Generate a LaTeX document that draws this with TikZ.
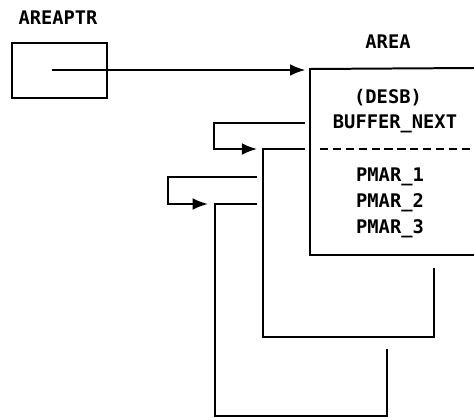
\documentclass[tikz,border=0pt]{standalone}
\usepackage{fontspec}
\setmonofont{DejaVu Sans Mono}
\usepackage{tikz}
\usetikzlibrary{arrows.meta, positioning}

\tikzset{
    lbl/.style={anchor=base, inner sep=0pt},
    ptr/.style={-{Latex[length=13pt, width=10pt]}}
}

\begin{document}
\begin{tikzpicture}[x=0.03cm, y=-0.03cm, line width=1.7pt, font=\ttfamily\bfseries\fontsize{16}{19}\selectfont]
    \useasboundingbox (0,0) rectangle (474,417);

    % pointer variable
    \node (Ptr) [rectangle, draw, minimum width=2.85cm, minimum height=1.65cm] at (59.5,70.5) {};
    \node (PtrLbl) [lbl] at (58,24.5) {AREAPTR};
    \coordinate (PtrDot) at (52,70);

    % the area
    \coordinate (AreaTL) at (310,69);
    \coordinate (AreaBL) at (310,255);
    \draw (474,68) -- (AreaTL) -- (AreaBL) -- (474,255);
    \draw[dash pattern=on 7pt off 4pt] (320,149) -- (474,149);
    \node (Area) [lbl] at (388,48.5) {AREA};
    \node (Desb) [lbl] at (388,103.5) {(DESB)};
    \node (BufNext) [lbl] at (395,128.5) {BUFFER\_NEXT};
    \node (Pmar1) [lbl] at (390,181.5) {PMAR\_1};
    \node (Pmar2) [lbl] at (390,207.5) {PMAR\_2};
    \node (Pmar3) [lbl] at (390,233.5) {PMAR\_3};

    \draw[ptr, shorten >=4pt] (PtrDot) -- (AreaTL |- PtrDot);

    % next buffers
    \coordinate (Buf2TL) at (263,149);
    \coordinate (Buf3TL) at (215,204);
    \draw (305,149) -- (Buf2TL) -- (263,337) -- (434,337) -- (434,268);
    \draw (257,204) -- (Buf3TL) -- (215,416) -- (387,416) -- (387,349);

    \coordinate (BufOut) at (305,123);
    \coordinate (PmarOut) at (257,177);
    \draw[ptr, shorten >=5pt] (BufOut) -- ++(-91,0) |- (Buf2TL);
    \draw[ptr, shorten >=6pt] (PmarOut) -- ++(-89,0) |- (Buf3TL);
\end{tikzpicture}
\end{document}
